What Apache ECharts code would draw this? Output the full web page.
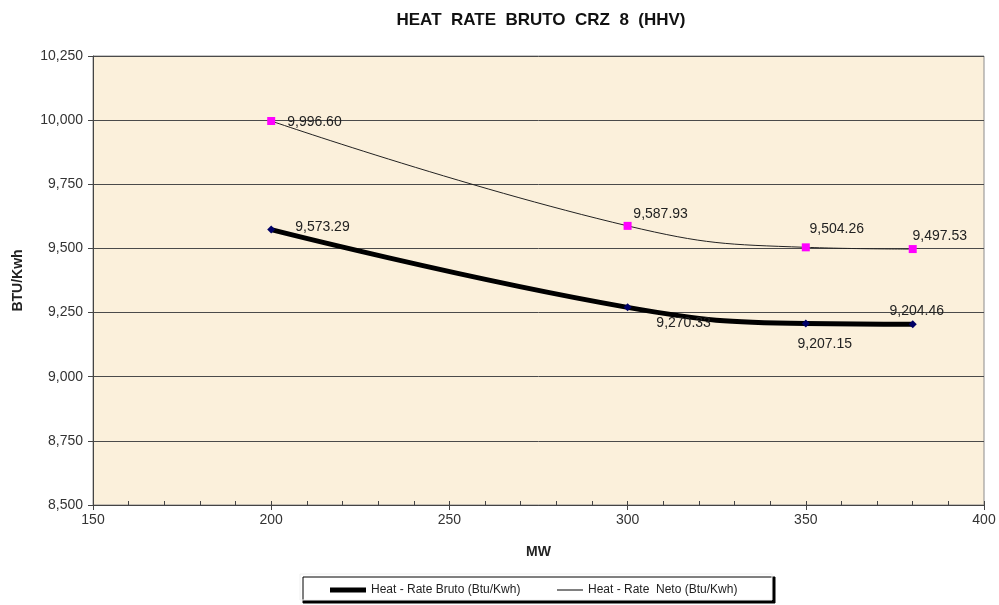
<!DOCTYPE html>
<html>
<head>
<meta charset="utf-8">
<title>HEAT RATE BRUTO CRZ 8 (HHV)</title>
<script src="https://cdn.jsdelivr.net/npm/echarts@6/dist/echarts.min.js"></script>
<style>
  html, body { margin: 0; padding: 0; background: #ffffff; }
  #chart { width: 999px; height: 605px; }
</style>
</head>
<body>
<div id="chart"></div>
<script>
// Load in MW and the heat rates measured at each load
const loadsMW = [200, 300, 350, 380];
const heatRateBruto = [9573.29, 9270.33, 9207.15, 9204.46];
const heatRateNeto = [9996.60, 9587.93, 9504.26, 9497.53];
const seriesNames = ['Heat - Rate Bruto (Btu/Kwh)', 'Heat - Rate  Neto (Btu/Kwh)'];

// Where each value label sits around its point
const brutoLabelPlace = [
  { position: 'right', distance: 20, offset: [0, -2] },
  { position: 'bottom', offset: [56, 0] },
  { position: 'bottom', offset: [19, 5] },
  { position: 'top', offset: [4, 3] }
];
const netoLabelPlace = [
  { position: 'right', distance: 12, offset: [0, 1] },
  { position: 'top', offset: [33, 4] },
  { position: 'top', offset: [31, -2] },
  { position: 'top', offset: [27, 3] }
];

const fmt = v => v.toLocaleString('en-US', { minimumFractionDigits: 2, maximumFractionDigits: 2 });
const fmtTick = v => v.toLocaleString('en-US');

function buildData(values, places) {
  return loadsMW.map((x, i) => ({
    value: [x, values[i]],
    label: Object.assign({ show: true, formatter: () => fmt(values[i]) }, places[i])
  }));
}

const chart = echarts.init(document.getElementById('chart'), null, { renderer: 'canvas' });

const labelText = { color: '#222', fontSize: 14, fontFamily: 'Liberation Sans, Arial, sans-serif' };

chart.setOption({
  animation: false,
  backgroundColor: '#ffffff',
  textStyle: { fontFamily: 'Liberation Sans, Arial, sans-serif' },
  title: {
    text: 'HEAT  RATE  BRUTO  CRZ  8  (HHV)',
    left: 536,
    textAlign: 'center',
    top: 7,
    textStyle: { fontSize: 17, fontWeight: 'bold', color: '#111' }
  },
  grid: {
    left: 93, right: 15, top: 56, bottom: 100,
    show: true,
    backgroundColor: '#FBF0DB',
    borderColor: '#8c8c8c',
    borderWidth: 1
  },
  graphic: [{
    type: 'rect',
    z: 0,
    shape: { x: 300, y: 574, width: 472, height: 26 },
    style: { fill: '#ffffff', stroke: '#f0f0f0', lineWidth: 1, shadowColor: '#000', shadowOffsetX: 3, shadowOffsetY: 3, shadowBlur: 0 }
  }],
  legend: [{
    data: [seriesNames[0]],
    left: 330, top: 584,
    icon: 'rect',
    itemWidth: 36, itemHeight: 5,
    itemStyle: { color: '#000000' },
    padding: 0,
    textStyle: { fontSize: 12, color: '#222' },
    z: 5
  }, {
    data: [seriesNames[1]],
    left: 557, top: 584,
    icon: 'rect',
    itemWidth: 26, itemHeight: 1,
    itemStyle: { color: '#000000' },
    padding: 0,
    textStyle: { fontSize: 12, color: '#222' },
    z: 5
  }],
  xAxis: [{
    type: 'value',
    min: 150, max: 400, interval: 50,
    name: 'MW',
    nameLocation: 'middle',
    nameGap: 40,
    nameTextStyle: { fontSize: 14, fontWeight: 'bold', color: '#222' },
    axisLine: { show: true, lineStyle: { color: '#444', width: 1 } },
    axisTick: { show: true, inside: false, length: 5, lineStyle: { color: '#444' } },
    axisLabel: { fontSize: 14, color: '#333', margin: 8 },
    splitLine: { show: false }
  }, {
    type: 'value',
    position: 'bottom',
    min: 150, max: 400, interval: 10,
    axisLine: { show: false },
    axisTick: { show: true, inside: true, length: 4, lineStyle: { color: '#444' } },
    axisLabel: { show: false },
    splitLine: { show: false }
  }],
  yAxis: {
    type: 'value',
    min: 8500, max: 10250, interval: 250,
    name: 'BTU/Kwh',
    nameLocation: 'middle',
    nameGap: 68,
    nameRotate: 90,
    nameTextStyle: { fontSize: 14, fontWeight: 'bold', color: '#222' },
    axisLine: { show: true, lineStyle: { color: '#444', width: 1 } },
    axisTick: { show: true, inside: false, length: 5, lineStyle: { color: '#444' } },
    axisLabel: { fontSize: 14, color: '#333', margin: 10, formatter: fmtTick },
    splitLine: { show: true, lineStyle: { color: '#4a4a4a', width: 1 } }
  },
  series: [{
    name: seriesNames[0],
    type: 'line',
    xAxisIndex: 0,
    smooth: 0.45,
    data: buildData(heatRateBruto, brutoLabelPlace),
    symbol: 'diamond',
    symbolSize: 8,
    color: '#000000',
    lineStyle: { color: '#000000', width: 5 },
    itemStyle: { color: '#000066' },
    label: labelText,
    z: 3
  }, {
    name: seriesNames[1],
    type: 'line',
    xAxisIndex: 0,
    smooth: 0.45,
    data: buildData(heatRateNeto, netoLabelPlace),
    symbol: 'rect',
    symbolSize: 8,
    color: '#000000',
    lineStyle: { color: '#222', width: 1 },
    itemStyle: { color: '#FF00FF' },
    label: labelText,
    z: 4
  }]
});
</script>
</body>
</html>
